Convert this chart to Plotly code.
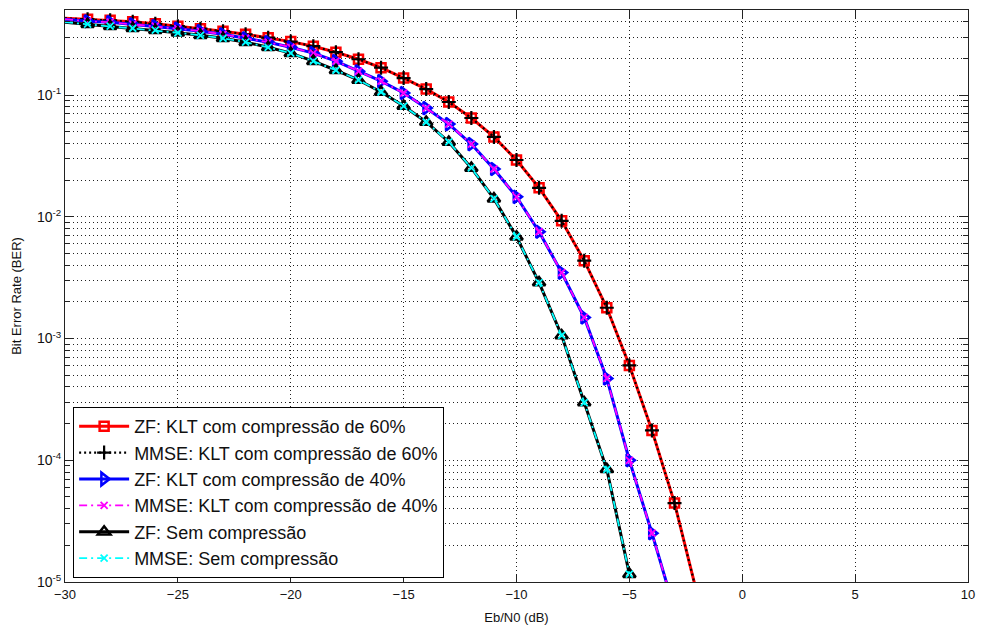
import plotly.graph_objects as go

# Eb/N0 values (dB)
x_zf60 = list(range(-30, -1))      # -30 .. -2
x_zf40 = list(range(-30, -2))      # -30 .. -3
x_sem = list(range(-30, -4))       # -30 .. -5

zf60 = [0.428, 0.420, 0.412, 0.400, 0.385, 0.368, 0.351, 0.335, 0.316, 0.296,
        0.275, 0.252, 0.225, 0.197, 0.168, 0.138, 0.112, 0.0877, 0.0648, 0.0453,
        0.0293, 0.0173, 0.00927, 0.00436, 0.00179, 0.000601, 0.000176, 4.45e-5, 8.0e-6]
mmse60 = [0.428, 0.420, 0.412, 0.400, 0.385, 0.368, 0.351, 0.335, 0.316, 0.296,
          0.275, 0.252, 0.225, 0.197, 0.168, 0.138, 0.112, 0.0877, 0.0648, 0.0453,
          0.0293, 0.0173, 0.00927, 0.00436, 0.00179, 0.000601, 0.000176, 4.45e-5, 8.0e-6]
zf40 = [0.420, 0.404, 0.397, 0.382, 0.368, 0.351, 0.335, 0.316, 0.293, 0.272,
        0.247, 0.221, 0.190, 0.157, 0.130, 0.104, 0.0782, 0.0578, 0.0396, 0.0247,
        0.0146, 0.00754, 0.00348, 0.00149, 0.000470, 1.0e-4, 2.52e-5, 5.9e-6]
mmse40 = [0.420, 0.404, 0.397, 0.382, 0.368, 0.351, 0.335, 0.316, 0.293, 0.272,
          0.247, 0.221, 0.190, 0.157, 0.130, 0.104, 0.0782, 0.0578, 0.0396, 0.0247,
          0.0146, 0.00754, 0.00348, 0.00149, 0.000470, 1.0e-4, 2.52e-5, 5.9e-6]
zf_sem = [0.397, 0.382, 0.368, 0.354, 0.341, 0.325, 0.310, 0.293, 0.272, 0.247,
          0.221, 0.190, 0.160, 0.133, 0.106, 0.0813, 0.0601, 0.0412, 0.0252, 0.0141,
          0.00686, 0.00288, 0.00106, 0.000298, 8.43e-5, 1.16e-5]
mmse_sem = [0.397, 0.382, 0.368, 0.354, 0.341, 0.325, 0.310, 0.293, 0.272, 0.247,
            0.221, 0.190, 0.160, 0.133, 0.106, 0.0813, 0.0601, 0.0412, 0.0252, 0.0141,
            0.00686, 0.00288, 0.00106, 0.000298, 8.43e-5, 1.16e-5]

names = ["ZF: KLT com compressão de 60%", "MMSE: KLT com compressão de 60%",
         "ZF: KLT com compressão de 40%", "MMSE: KLT com compressão de 40%",
         "ZF: Sem compressão", "MMSE: Sem compressão"]

x_ticks = [-30, -25, -20, -15, -10, -5, 0, 5, 10]
y_ticks = [1e-5, 1e-4, 1e-3, 1e-2, 1e-1]
y_ticktext = ["10<sup>-5</sup>", "10<sup>-4</sup>", "10<sup>-3</sup>", "10<sup>-2</sup>", "10<sup>-1</sup>"]

minor_y = [m * 10.0 ** k for k in range(-5, 0) for m in range(2, 10) if m * 10.0 ** k <= 0.5]

fig = go.Figure()


def add(x, y, name, color, width, dash, symbol, msize, mlw):
    n = len(x)
    fig.add_trace(go.Scatter(
        x=x, y=y, name=name, mode="lines+markers",
        line=dict(color=color, width=width, dash=dash),
        marker=dict(symbol=symbol, size=msize, color=color,
                    line=dict(color=color, width=mlw)),
        selectedpoints=list(range(1, n)),
        selected=dict(marker=dict(opacity=1)),
        unselected=dict(marker=dict(opacity=0)),
    ))


add(x_zf60, zf60, names[0], "#FF0000", 3, "solid", "square-open", 9, 2.5)
add(x_zf60, mmse60, names[1], "#000000", 2.2, "2px,3px", "cross-thin", 10, 2.2)
add(x_zf40, zf40, names[2], "#0000FF", 3, "solid", "triangle-right-open", 11, 2.5)
add(x_zf40, mmse40, names[3], "#FF00FF", 1.8, "8px,4px,2px,4px", "x-thin", 7, 1.8)
add(x_sem, zf_sem, names[4], "#000000", 3, "solid", "triangle-up-open", 11, 2.5)
add(x_sem, mmse_sem, names[5], "#00FFFF", 1.8, "8px,4px,2px,4px", "x-thin", 7, 1.8)

font = "Liberation Sans, Arial, sans-serif"

fig.update_layout(
    width=983, height=628,
    margin=dict(l=65, r=15, t=10, b=46),
    paper_bgcolor="white", plot_bgcolor="white",
    font=dict(family=font, size=12, color="#111"),
    showlegend=True,
    legend=dict(
        x=0.009, y=0.007, xanchor="left", yanchor="bottom",
        bgcolor="white", bordercolor="black", borderwidth=1,
        font=dict(family=font, size=18, color="#111"),
        itemwidth=50, tracegroupgap=0,
    ),
    xaxis=dict(
        range=[-30, 10], tickvals=x_ticks,
        showline=True, linecolor="#222", linewidth=1, mirror="allticks",
        ticks="inside", ticklen=8, tickcolor="#222",
        showgrid=True, gridcolor="#222", gridwidth=1, griddash="1px,3px",
        zeroline=False,
        title=dict(text="Eb/N0 (dB)", font=dict(family=font, size=13), standoff=12),
        tickfont=dict(family=font, size=13),
        automargin=False,
    ),
    yaxis=dict(
        type="log", range=[-5, -0.30103],
        tickvals=y_ticks, ticktext=y_ticktext,
        showline=True, linecolor="#222", linewidth=1, mirror="allticks",
        ticks="inside", ticklen=9, tickcolor="#222",
        showgrid=True, gridcolor="#222", gridwidth=1, griddash="1px,3px",
        zeroline=False,
        minor=dict(tickvals=minor_y, ticks="inside", ticklen=5, tickcolor="#222",
                   showgrid=True, gridcolor="#222", gridwidth=1, griddash="1px,3px"),
        title=dict(text="Bit Error Rate (BER)", font=dict(family=font, size=13), standoff=12),
        tickfont=dict(family=font, size=14),
        automargin=False,
    ),
)

fig.write_html("out.html")
